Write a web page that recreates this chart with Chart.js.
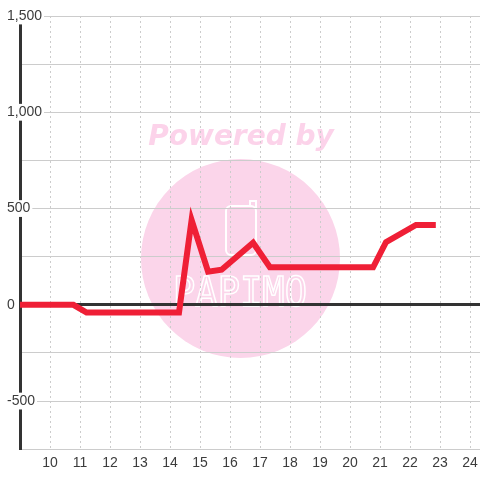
<!DOCTYPE html>
<html lang="en">
<head>
<meta charset="UTF-8">
<title>Line chart</title>
<script src="https://cdn.jsdelivr.net/npm/chart.js"></script>
<style>
  html, body { margin: 0; padding: 0; background: #fff; }
</style>
</head>
<body>
<canvas id="myChart" width="480" height="480"></canvas>
<script>
// hour of day and value at each corner of the line
const hours = [8.5, 10.78, 11.22, 14.3, 14.72, 15.27, 15.72, 16.77, 17.33, 20.77, 21.2, 22.2, 22.86];
const values = [0, 0, -40, -40, 440, 172, 182, 322, 195, 195, 325, 415, 415];

const xTicks = [10, 11, 12, 13, 14, 15, 16, 17, 18, 19, 20, 21, 22, 23, 24];
const yTicks = [-750, -500, -250, 0, 250, 500, 750, 1000, 1250, 1500];
const yLabeled = [-500, 0, 500, 1000, 1500];

const watermark = {
    id: 'watermark',
    beforeDraw(chart) {
        const ctx = chart.ctx;
        ctx.save();
        ctx.fillStyle = '#fbd5ea';
        ctx.beginPath();
        ctx.arc(240.5, 258.5, 99.5, 0, Math.PI * 2);
        ctx.fill();

        ctx.font = 'bold italic 28px "DejaVu Sans"';
        ctx.textAlign = 'center';
        ctx.fillStyle = '#fcd3ea';
        ctx.fillText('Powered by', 241, 145);

        // little white logo inside the circle
        ctx.strokeStyle = '#fff';
        ctx.lineWidth = 2;
        ctx.beginPath();
        ctx.roundRect(226, 206, 30, 49, 5);
        ctx.stroke();
        ctx.beginPath();
        ctx.moveTo(250, 206);
        ctx.lineTo(250, 201);
        ctx.lineTo(256, 201);
        ctx.lineTo(256, 208);
        ctx.stroke();
        ctx.font = '40px "DejaVu Sans Mono"';
        ctx.lineWidth = 1.6;
        ctx.strokeText('PAPIMO', 240, 306, 134);
        ctx.restore();
    }
};

const ctx = document.getElementById('myChart').getContext('2d');

new Chart(ctx, {
    type: 'line',
    data: {
        datasets: [{
            data: hours.map((h, i) => ({ x: h, y: values[i] })),
            borderColor: '#ef1f36',
            borderWidth: 6,
            pointRadius: 0,
            tension: 0,
            fill: false
        }]
    },
    options: {
        responsive: false,
        animation: false,
        layout: { padding: { top: 16, left: 6, right: 0, bottom: 2 } },
        plugins: {
            legend: { display: false },
            tooltip: { enabled: false }
        },
        scales: {
            x: {
                type: 'linear',
                min: 9,
                max: 24.333,
                afterBuildTicks: s => { s.ticks = xTicks.map(v => ({ value: v })); },
                afterFit: s => { s.paddingLeft = 0; s.paddingRight = 0; },
                border: { display: true, color: '#ccc', width: 1, dash: [2, 3] },
                grid: { drawTicks: false, color: '#ccc', lineWidth: 1 },
                ticks: {
                    padding: 6,
                    maxRotation: 0,
                    autoSkip: false,
                    color: '#3c3c3c',
                    font: { family: 'Liberation Sans', size: 14 }
                }
            },
            y: {
                min: -750,
                max: 1500,
                afterBuildTicks: s => { s.ticks = yTicks.map(v => ({ value: v })); },
                afterFit: s => { s.width = 14; },
                border: { display: true, color: '#333', width: 3 },
                grid: {
                    drawTicks: false,
                    color: c => c.tick && c.tick.value === 0 ? '#333' : '#ccc',
                    lineWidth: c => c.tick && c.tick.value === 0 ? 3 : 1
                },
                ticks: {
                    mirror: true,
                    crossAlign: 'near',
                    padding: -13,
                    z: 1,
                    color: '#3c3c3c',
                    font: { family: 'Liberation Sans', size: 14 },
                    showLabelBackdrop: true,
                    backdropColor: '#fff',
                    backdropPadding: { top: 0, bottom: 0, left: 2, right: 2 },
                    callback: v => yLabeled.includes(v) ? v.toLocaleString('en-US') : ''
                }
            }
        }
    },
    plugins: [watermark]
});
</script>
</body>
</html>
